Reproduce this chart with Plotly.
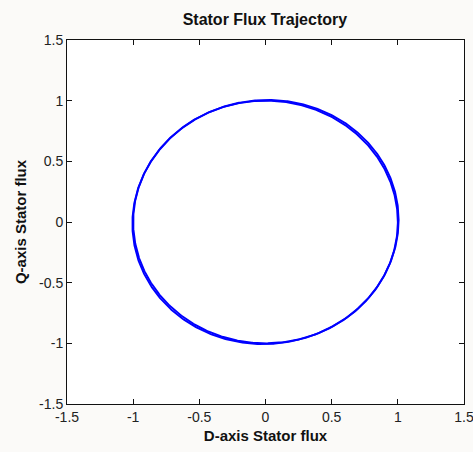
import numpy as np
import plotly.graph_objects as go

# Stator flux trajectory: steady-state loops in the d-q plane.
# Each loop is described by its d/q amplitudes and the phase shift of q.
loop_d_amplitude = [1.00, 1.00]
loop_q_amplitude = [1.00, 1.00]
loop_q_phase_shift = [0.0, 0.016]   # rad, small d-q coupling in the second loop
loop_scale = [1.000, 1.006]

axis_ticks = [-1.5, -1, -0.5, 0, 0.5, 1, 1.5]
axis_tick_text = ["-1.5", "-1", "-0.5", "0", "0.5", "1", "1.5"]

theta = np.linspace(0, 2 * np.pi, 721)
d_flux, q_flux = [], []
for ad, aq, ph, s in zip(loop_d_amplitude, loop_q_amplitude, loop_q_phase_shift, loop_scale):
    d_flux.extend(list(s * ad * np.cos(theta)) + [None])
    q_flux.extend(list(s * aq * np.sin(theta + ph)) + [None])

fig = go.Figure()
fig.add_trace(go.Scatter(
    x=d_flux, y=q_flux, mode="lines",
    line=dict(color="#0000ff", width=1.9),
    connectgaps=False, hoverinfo="skip",
))

narrow = "Liberation Sans Narrow, Arial Narrow, Liberation Sans, Arial, sans-serif"
axis_common = dict(
    range=[-1.5, 1.5], tickvals=axis_ticks, ticktext=axis_tick_text,
    ticks="inside", ticklen=5, tickwidth=1, tickcolor="#111",
    showline=True, linecolor="#111", linewidth=1, mirror="ticks",
    showgrid=False, zeroline=False, ticklabeloverflow="allow",
    automargin=False,
    tickfont=dict(family="Liberation Sans, Arial, sans-serif", size=14, color="#222"),
)

fig.update_layout(
    width=473, height=452,
    margin=dict(l=67, r=9, t=40, b=48, autoexpand=False),
    paper_bgcolor="#fbfaf8", plot_bgcolor="#ffffff",
    showlegend=False,
    title=dict(text="<b>Stator Flux Trajectory</b>", x=0.56, xanchor="center",
               y=0.956, yanchor="middle", automargin=False,
               font=dict(family=narrow, size=16, color="#111")),
    xaxis=dict(**axis_common,
               title=dict(text="<b>D-axis Stator flux</b>", standoff=6,
                          font=dict(family=narrow, size=15, color="#111"))),
    yaxis=dict(**axis_common,
               title=dict(text="<b>Q-axis Stator flux</b>", standoff=8,
                          font=dict(family=narrow, size=15, color="#111"))),
)

fig.write_html("out.html")
